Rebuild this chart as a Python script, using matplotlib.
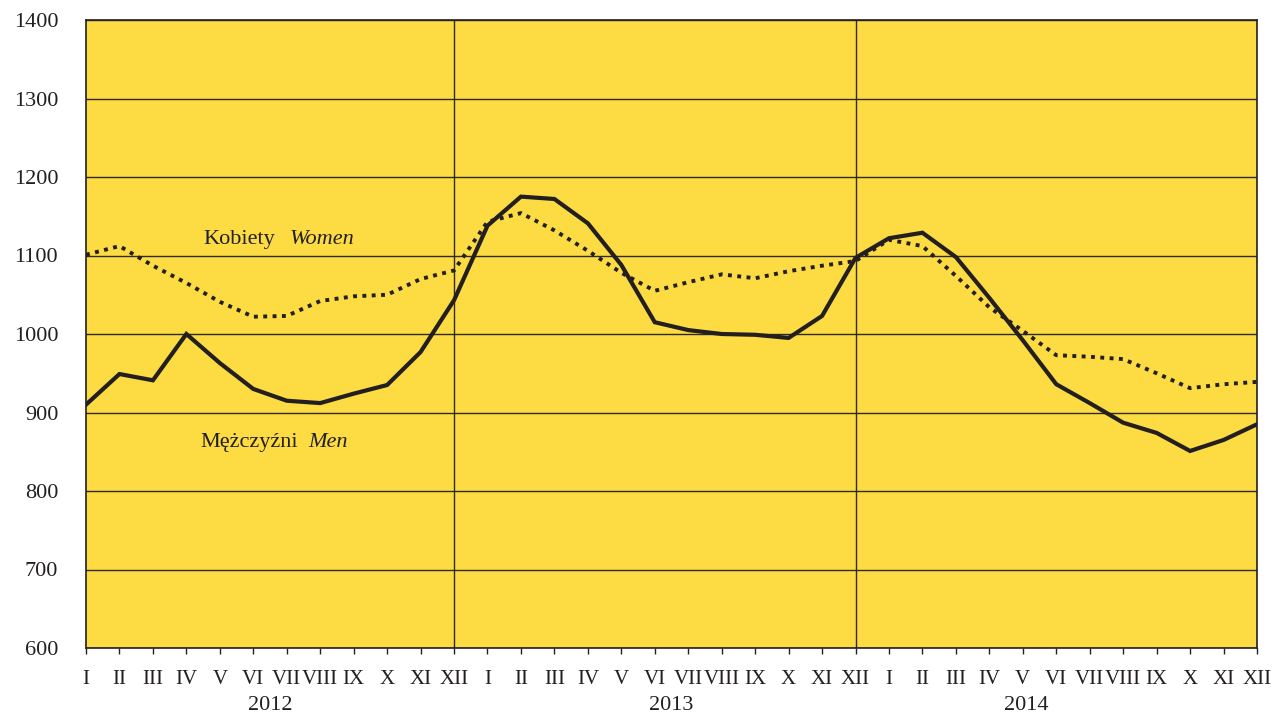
import matplotlib
matplotlib.use("Agg")
import matplotlib.pyplot as plt
import numpy as np

months = ["I", "II", "III", "IV", "V", "VI", "VII", "VIII", "IX", "X", "XI", "XII"]
years = ["2012", "2013", "2014"]
tick_labels = months * 3

men = [910, 949, 941, 1000, 963, 930, 915, 912, 924, 935, 977, 1043,
       1138, 1175, 1172, 1141, 1088, 1015, 1005, 1000, 999, 995, 1023, 1097,
       1122, 1129, 1098, 1046, 992, 936, 912, 887, 874, 851, 865, 885]
women = [1101, 1112, 1087, 1065, 1041, 1022, 1023, 1042, 1048, 1050, 1070, 1081,
         1143, 1154, 1132, 1106, 1078, 1055, 1066, 1076, 1071, 1080, 1087, 1093,
         1120, 1112, 1074, 1034, 1004, 973, 971, 968, 950, 931, 936, 939]

plt.rcParams['font.family'] = ['Liberation Serif', 'DejaVu Serif']
INK = '#231F20'
FS = 16

fig = plt.figure(figsize=(12.75, 7.14), dpi=100)
ax = fig.add_axes([86/1275, 66/714, (1257-86)/1275, (648-20)/714])
ax.set_facecolor('#FCDB43')

x = np.arange(len(men))
ax.set_xlim(0, len(men) - 1)
ax.set_ylim(600, 1400)
ax.set_yticks(np.arange(600, 1401, 100))
ax.yaxis.grid(True, color='#2f2a1c', lw=1.0)
for xv in [11, 23]:
    ax.axvline(xv, color='#2f2a1c', lw=1.0)
ax.set_axisbelow(True)

ax.plot(x, women, color=INK, lw=2.8, linestyle=(0, (1, 1.4)), dash_capstyle='butt')
ax.plot(x, men, color=INK, lw=3.0, solid_joinstyle='miter')

ax.set_xticks(x)
ax.set_xticklabels(tick_labels, fontsize=15)
ax.tick_params(axis='x', length=4, width=1, color=INK, pad=12, labelcolor=INK)
ax.tick_params(axis='y', length=0, pad=20, labelsize=FS, labelcolor=INK)

for s in ax.spines.values():
    s.set_color(INK)
    s.set_linewidth(1.2)

year_pos = [5.5, 17.5, 28.1]
for yp, yr in zip(year_pos, years):
    ax.text(yp, -0.092, yr, transform=ax.get_xaxis_transform(), ha='center', va='center',
            fontsize=FS, color=INK)

ax.text(5.65, 1121, "Kobiety", ha='right', va='center', fontsize=FS, color=INK)
ax.text(6.07, 1121, "Women", ha='left', va='center', fontsize=FS, color=INK, style='italic')
ax.text(6.34, 862, "Mężczyźni", ha='right', va='center', fontsize=FS, color=INK)
ax.text(6.63, 862, "Men", ha='left', va='center', fontsize=FS, color=INK, style='italic')

fig.savefig("out.png", dpi=100)
